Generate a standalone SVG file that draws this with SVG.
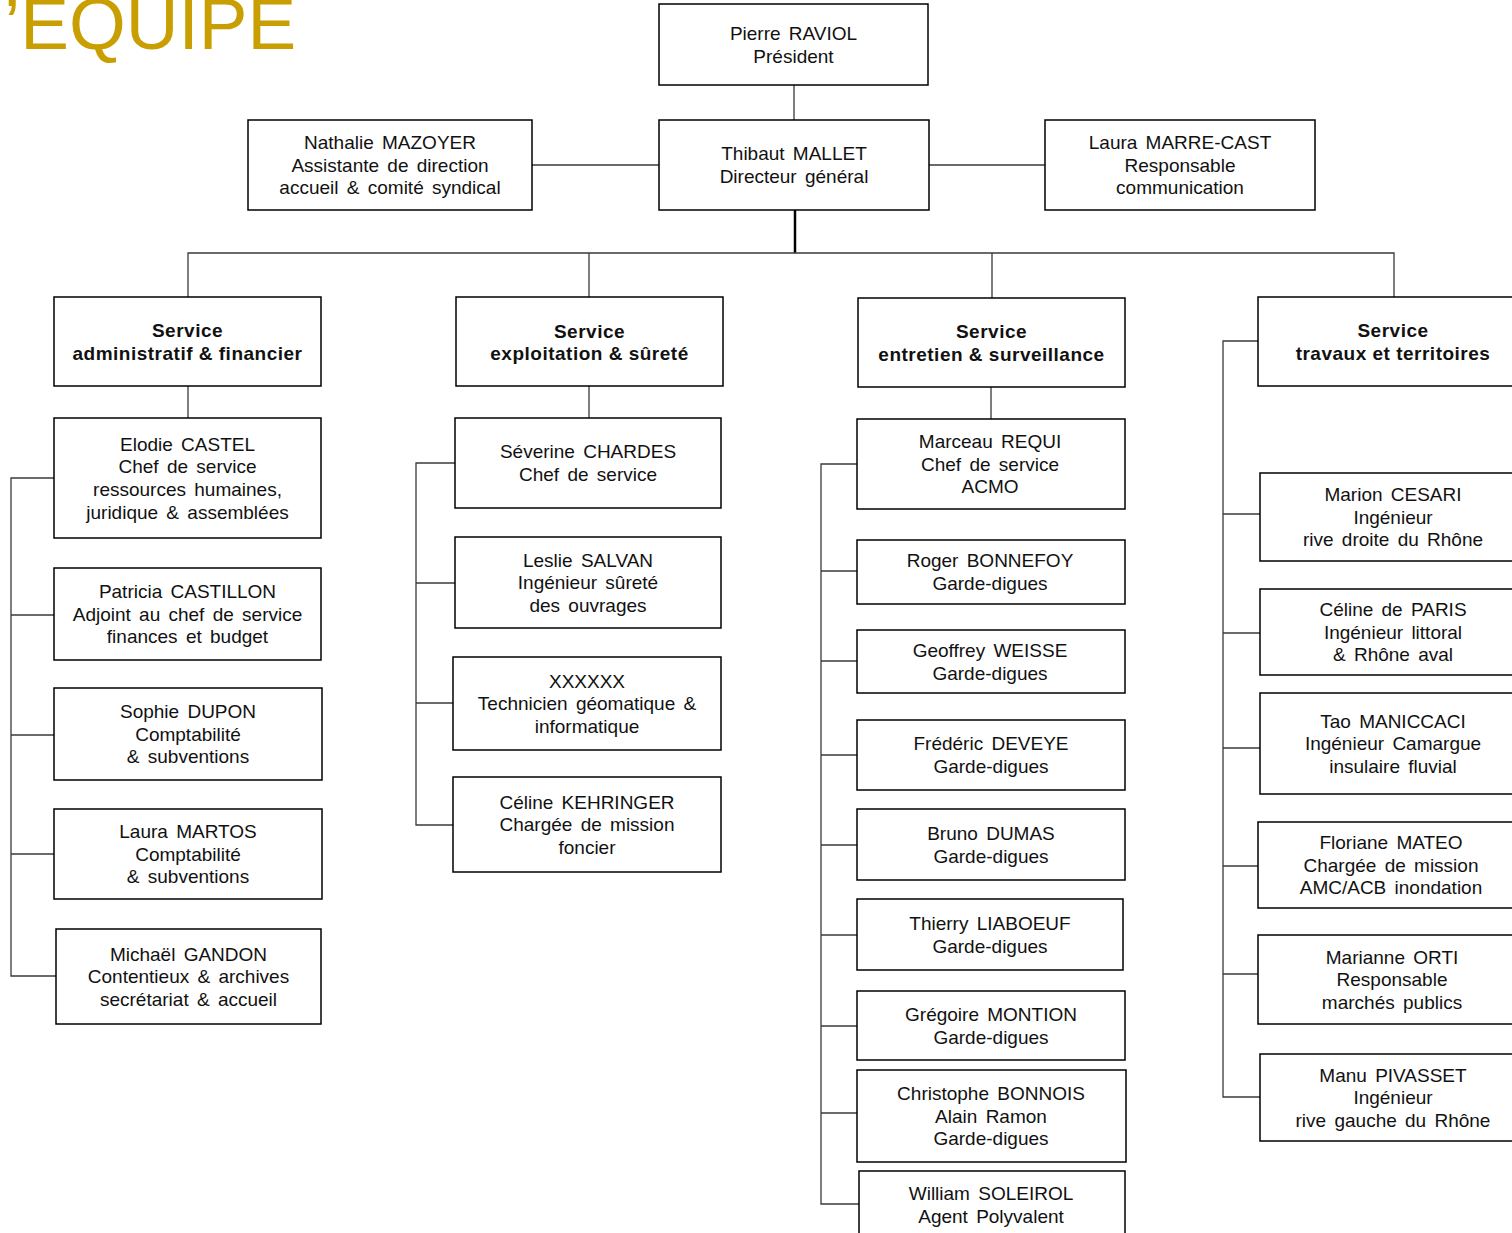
<svg xmlns="http://www.w3.org/2000/svg" width="1512" height="1233" viewBox="0 0 1512 1233">
<style>
.bx{fill:#fff;stroke:#000;stroke-width:1.5}
.t{font-family:"Liberation Sans",Arial,sans-serif;font-size:19px;fill:#111;text-anchor:middle;word-spacing:3px}
.b{font-weight:bold;letter-spacing:0.5px;word-spacing:0}
.c{fill:none;stroke:#3a3a3a;stroke-width:1.3}
.ck{fill:none;stroke:#000;stroke-width:2.5}
.title{font-family:"Liberation Sans",Arial,sans-serif;font-size:73px;fill:#C99E00}
</style>
<rect width="1512" height="1233" fill="#fff"/>
<text class="title" x="4" y="49">’EQUIPE</text>
<g id="connectors">
<path class="c" d="M794 85V120M532 165H659M929 165H1045"/>
<path class="ck" d="M795 210V253"/>
<path class="c" d="M188 297V253H1394V297M589 253V297M992 253V298"/>
<path class="c" d="M188 386V418M589 386V418M991 387V419"/>
<path class="c" d="M54 478H11V976H56M11 615H54M11 735H54M11 854H54"/>
<path class="c" d="M455 463H416V825H453M416 583H455M416 703H453"/>
<path class="c" d="M857 464H821V1204H859M821 571H857M821 661H857M821 755H857M821 845H857M821 935H857M821 1026H857M821 1113H857"/>
<path class="c" d="M1258 341H1223V1097H1260M1223 514H1260M1223 633H1260M1223 748H1260M1223 866H1258M1223 974H1258"/>
</g>
<g id="n-raviol"><rect class="bx" x="659" y="4" width="269" height="81"/><text class="t"><tspan x="793.5" y="39.8">Pierre RAVIOL</tspan><tspan x="793.5" y="62.5">Président</tspan></text></g>
<g id="n-mallet"><rect class="bx" x="659" y="120" width="270" height="90"/><text class="t"><tspan x="794" y="160.3">Thibaut MALLET</tspan><tspan x="794" y="183.1">Directeur général</tspan></text></g>
<g id="n-mazoyer"><rect class="bx" x="248" y="120" width="284" height="90"/><text class="t"><tspan x="390" y="149">Nathalie MAZOYER</tspan><tspan x="390" y="171.7">Assistante de direction</tspan><tspan x="390" y="194.4">accueil &amp; comité syndical</tspan></text></g>
<g id="n-marrecast"><rect class="bx" x="1045" y="120" width="270" height="90"/><text class="t"><tspan x="1180" y="149">Laura MARRE-CAST</tspan><tspan x="1180" y="171.7">Responsable</tspan><tspan x="1180" y="194.4">communication</tspan></text></g>

<g id="s-admin"><rect class="bx" x="54" y="297" width="267" height="89"/><text class="t b"><tspan x="187.5" y="336.8">Service</tspan><tspan x="187.5" y="359.6">administratif &amp; financier</tspan></text></g>
<g id="s-exploit"><rect class="bx" x="456" y="297" width="267" height="89"/><text class="t b"><tspan x="589.5" y="337.5">Service</tspan><tspan x="589.5" y="360.3">exploitation &amp; sûreté</tspan></text></g>
<g id="s-entretien"><rect class="bx" x="858" y="298" width="267" height="89"/><text class="t b"><tspan x="991.5" y="338.3">Service</tspan><tspan x="991.5" y="361">entretien &amp; surveillance</tspan></text></g>
<g id="s-travaux"><rect class="bx" x="1258" y="297" width="270" height="89"/><text class="t b"><tspan x="1393" y="336.8">Service</tspan><tspan x="1393" y="359.6">travaux et territoires</tspan></text></g>

<g id="n-castel"><rect class="bx" x="54" y="418" width="267" height="120"/><text class="t"><tspan x="187.5" y="450.7">Elodie CASTEL</tspan><tspan x="187.5" y="473.4">Chef de service</tspan><tspan x="187.5" y="496.1">ressources humaines,</tspan><tspan x="187.5" y="518.8">juridique &amp; assemblées</tspan></text></g>
<g id="n-castillon"><rect class="bx" x="54" y="568" width="267" height="92"/><text class="t"><tspan x="187.5" y="598">Patricia CASTILLON</tspan><tspan x="187.5" y="620.7">Adjoint au chef de service</tspan><tspan x="187.5" y="643.4">finances et budget</tspan></text></g>
<g id="n-dupon"><rect class="bx" x="54" y="688" width="268" height="92"/><text class="t"><tspan x="188" y="718">Sophie DUPON</tspan><tspan x="188" y="740.7">Comptabilité</tspan><tspan x="188" y="763.4">&amp; subventions</tspan></text></g>
<g id="n-martos"><rect class="bx" x="54" y="809" width="268" height="90"/><text class="t"><tspan x="188" y="838">Laura MARTOS</tspan><tspan x="188" y="860.7">Comptabilité</tspan><tspan x="188" y="883.4">&amp; subventions</tspan></text></g>
<g id="n-gandon"><rect class="bx" x="56" y="929" width="265" height="95"/><text class="t"><tspan x="188.5" y="960.5">Michaël GANDON</tspan><tspan x="188.5" y="983.2">Contentieux &amp; archives</tspan><tspan x="188.5" y="1005.9">secrétariat &amp; accueil</tspan></text></g>

<g id="n-chardes"><rect class="bx" x="455" y="418" width="266" height="90"/><text class="t"><tspan x="588" y="458.4">Séverine CHARDES</tspan><tspan x="588" y="481.1">Chef de service</tspan></text></g>
<g id="n-salvan"><rect class="bx" x="455" y="537" width="266" height="91"/><text class="t"><tspan x="588" y="566.5">Leslie SALVAN</tspan><tspan x="588" y="589.2">Ingénieur sûreté</tspan><tspan x="588" y="611.9">des ouvrages</tspan></text></g>
<g id="n-xxxxxx"><rect class="bx" x="453" y="657" width="268" height="93"/><text class="t"><tspan x="587" y="687.5">XXXXXX</tspan><tspan x="587" y="710.2">Technicien géomatique &amp;</tspan><tspan x="587" y="732.9">informatique</tspan></text></g>
<g id="n-kehringer"><rect class="bx" x="453" y="777" width="268" height="95"/><text class="t"><tspan x="587" y="808.5">Céline KEHRINGER</tspan><tspan x="587" y="831.2">Chargée de mission</tspan><tspan x="587" y="853.9">foncier</tspan></text></g>

<g id="n-requi"><rect class="bx" x="857" y="419" width="268" height="90"/><text class="t"><tspan x="990" y="448">Marceau REQUI</tspan><tspan x="990" y="470.7">Chef de service</tspan><tspan x="990" y="493.4">ACMO</tspan></text></g>
<g id="n-bonnefoy"><rect class="bx" x="857" y="540" width="268" height="64"/><text class="t"><tspan x="990" y="567.4">Roger BONNEFOY</tspan><tspan x="990" y="590.1">Garde-digues</tspan></text></g>
<g id="n-weisse"><rect class="bx" x="857" y="630" width="268" height="63"/><text class="t"><tspan x="990" y="656.9">Geoffrey WEISSE</tspan><tspan x="990" y="679.6">Garde-digues</tspan></text></g>
<g id="n-deveye"><rect class="bx" x="857" y="720" width="268" height="70"/><text class="t"><tspan x="991" y="750.4">Frédéric DEVEYE</tspan><tspan x="991" y="773.1">Garde-digues</tspan></text></g>
<g id="n-dumas"><rect class="bx" x="857" y="809" width="268" height="71"/><text class="t"><tspan x="991" y="839.9">Bruno DUMAS</tspan><tspan x="991" y="862.6">Garde-digues</tspan></text></g>
<g id="n-liaboeuf"><rect class="bx" x="857" y="899" width="266" height="71"/><text class="t"><tspan x="990" y="929.9">Thierry LIABOEUF</tspan><tspan x="990" y="952.6">Garde-digues</tspan></text></g>
<g id="n-montion"><rect class="bx" x="857" y="991" width="268" height="69"/><text class="t"><tspan x="991" y="1020.9">Grégoire MONTION</tspan><tspan x="991" y="1043.6">Garde-digues</tspan></text></g>
<g id="n-bonnois"><rect class="bx" x="857" y="1070" width="269" height="92"/><text class="t"><tspan x="991" y="1100">Christophe BONNOIS</tspan><tspan x="991" y="1122.7">Alain Ramon</tspan><tspan x="991" y="1145.4">Garde-digues</tspan></text></g>
<g id="n-soleirol"><rect class="bx" x="859" y="1171" width="266" height="70"/><text class="t"><tspan x="991" y="1200.4">William SOLEIROL</tspan><tspan x="991" y="1223.1">Agent Polyvalent</tspan></text></g>

<g id="n-cesari"><rect class="bx" x="1260" y="473" width="268" height="88"/><text class="t"><tspan x="1393" y="501">Marion CESARI</tspan><tspan x="1393" y="523.7">Ingénieur</tspan><tspan x="1393" y="546.4">rive droite du Rhône</tspan></text></g>
<g id="n-paris"><rect class="bx" x="1260" y="589" width="268" height="86"/><text class="t"><tspan x="1393" y="616">Céline de PARIS</tspan><tspan x="1393" y="638.7">Ingénieur littoral</tspan><tspan x="1393" y="661.4">&amp; Rhône aval</tspan></text></g>
<g id="n-maniccaci"><rect class="bx" x="1260" y="693" width="268" height="101"/><text class="t"><tspan x="1393" y="727.5">Tao MANICCACI</tspan><tspan x="1393" y="750.2">Ingénieur Camargue</tspan><tspan x="1393" y="772.9">insulaire fluvial</tspan></text></g>
<g id="n-mateo"><rect class="bx" x="1258" y="822" width="270" height="86"/><text class="t"><tspan x="1391" y="849">Floriane MATEO</tspan><tspan x="1391" y="871.7">Chargée de mission</tspan><tspan x="1391" y="894.4">AMC/ACB inondation</tspan></text></g>
<g id="n-orti"><rect class="bx" x="1258" y="935" width="270" height="89"/><text class="t"><tspan x="1392" y="963.5">Marianne ORTI</tspan><tspan x="1392" y="986.2">Responsable</tspan><tspan x="1392" y="1008.9">marchés publics</tspan></text></g>
<g id="n-pivasset"><rect class="bx" x="1260" y="1054" width="268" height="87"/><text class="t"><tspan x="1393" y="1081.5">Manu PIVASSET</tspan><tspan x="1393" y="1104.2">Ingénieur</tspan><tspan x="1393" y="1126.9">rive gauche du Rhône</tspan></text></g>
</svg>
